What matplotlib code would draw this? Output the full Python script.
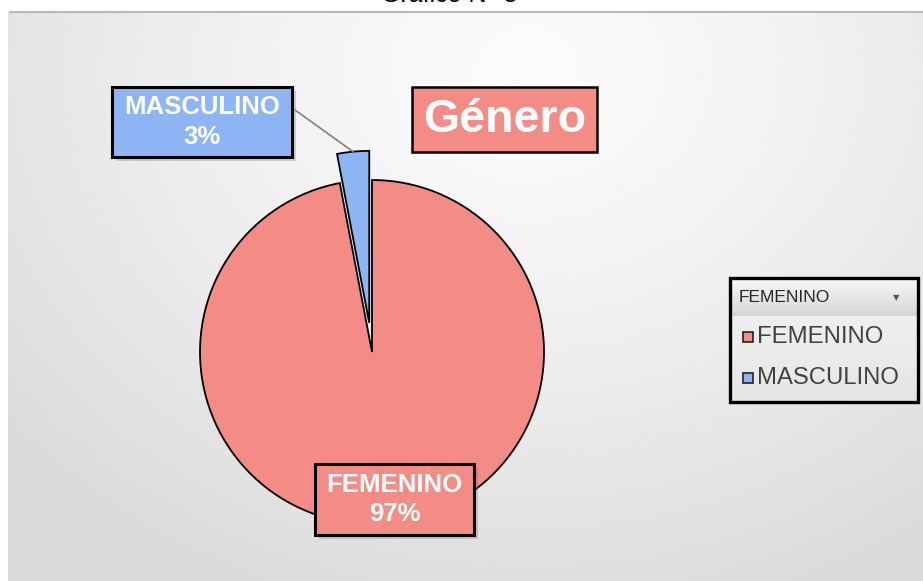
import matplotlib
matplotlib.use("Agg")
import matplotlib.pyplot as plt
from matplotlib.patches import Rectangle, ConnectionPatch
import numpy as np

# data
categories = ["FEMENINO", "MASCULINO"]
values = [97, 3]
slice_colors = ["#F28C84", "#8DB4F3"]
chart_title = "Género"
figure_caption = "Gráfico N° 8"

W, H = 923, 581
FONT = "Liberation Sans"


def fx(x):
    return x / W


def fy(y):
    # pixel y measured from the top
    return 1 - y / H


def label_box(x, y, w, h, face, text, size, lw=2.2, shadow=True):
    if shadow:
        fig.add_artist(Rectangle((fx(x + 4), fy(y + h + 4)), w / W, h / H,
                                 transform=fig.transFigure, facecolor="#7a7a7a",
                                 edgecolor="none", alpha=0.3, zorder=5))
    fig.add_artist(Rectangle((fx(x), fy(y + h)), w / W, h / H,
                             transform=fig.transFigure, facecolor=face,
                             edgecolor="black", linewidth=lw, zorder=6))
    fig.text(fx(x + w / 2), fy(y + h / 2), text, ha="center", va="center",
             color="white", fontweight="bold", fontsize=size, family=FONT,
             linespacing=1.3, zorder=7)


fig = plt.figure(figsize=(W / 100, H / 100), dpi=100)
fig.patch.set_facecolor("white")

# chart area background (soft grey gradient)
bg = fig.add_axes([fx(8), 0, 1 - fx(8), (H - 12) / H])
gy, gx = np.mgrid[0:200, 0:300]
d = np.hypot((gx - 170) / 300.0, (gy - 20) / 200.0 * 0.75)
shade = 0.985 - 0.13 * np.clip(d / 0.75, 0, 1) ** 1.3
bg.imshow(shade, cmap="gray", vmin=0, vmax=1, aspect="auto",
          extent=[0, 1, 0, 1], origin="upper")
bg.set_xlim(0, 1)
bg.set_ylim(0, 1)
bg.axis("off")
fig.add_artist(plt.Line2D([fx(10), 1], [fy(12), fy(12)], transform=fig.transFigure,
                          color="#b8b8b8", linewidth=1.5))

# pie
cx, cy, R = 372, 352, 172
lim = 1.3
ax = fig.add_axes([fx(cx - R * lim), fy(cy + R * lim), 2 * R * lim / W, 2 * R * lim / H])
explode = [0, 0.17]
wedges, _ = ax.pie(values, colors=slice_colors, startangle=90, counterclock=False,
                   explode=explode,
                   wedgeprops=dict(edgecolor="black", linewidth=1.3))
ax.set_xlim(-lim, lim)
ax.set_ylim(-lim, lim)
ax.set_aspect("equal")
ax.axis("off")

total = sum(values)
labels = [f"{c}\n{round(100 * v / total)}%" for c, v in zip(categories, values)]

# leader line to the small slice
w = wedges[1]
mid = np.deg2rad((w.theta1 + w.theta2) / 2)
rr = 1 + explode[1]
con = ConnectionPatch(xyA=(fx(295), fy(110)), coordsA=fig.transFigure,
                      xyB=(rr * np.cos(mid), rr * np.sin(mid)), coordsB=ax.transData,
                      color="#808080", linewidth=1.2, zorder=4)
fig.add_artist(con)

# data labels and title box
label_box(112, 87, 180, 70, slice_colors[1], labels[1], 18.5)
label_box(315, 464, 159, 71, slice_colors[0], labels[0], 18.5)
label_box(412, 87, 185, 65, slice_colors[0], chart_title, 33.5, lw=1.8, shadow=False)

# caption cut by the top edge
fig.text(fx(449), fy(2), figure_caption, ha="center", va="baseline",
         fontsize=18, family=FONT, color="black")

# legend (filter style)
lx, ly, lw_, lh = 730, 278, 188, 124
leg_bg = fig.add_axes([fx(lx), fy(ly + lh), lw_ / W, lh / H])
leg_bg.imshow(np.linspace(0.95, 0.9, 50)[:, None], cmap="gray", vmin=0, vmax=1,
              aspect="auto", extent=[0, 1, 0, 1])
head = fig.add_axes([fx(lx), fy(ly + 38), lw_ / W, 38 / H])
head.imshow(np.linspace(0.97, 0.84, 50)[:, None], cmap="gray", vmin=0, vmax=1,
            aspect="auto", extent=[0, 1, 0, 1])
for a in (leg_bg, head):
    a.set_xlim(0, 1)
    a.set_ylim(0, 1)
    a.axis("off")
fig.add_artist(Rectangle((fx(lx), fy(ly + lh)), lw_ / W, lh / H,
                         transform=fig.transFigure, facecolor="none",
                         edgecolor="black", linewidth=2.4, zorder=6))
fig.text(fx(739), fy(298), categories[0], ha="left", va="center", fontsize=12.5,
         family=FONT, color="#262626", zorder=7)
fig.text(fx(896), fy(298), "\u25BC", ha="center", va="center", fontsize=6,
         family="DejaVu Sans", color="#555555", zorder=7)
for i, (cat, col) in enumerate(zip(categories, slice_colors)):
    yy = 337 + i * 41
    fig.add_artist(Rectangle((fx(743), fy(yy + 5)), 10 / W, 10 / H,
                             transform=fig.transFigure, facecolor=col,
                             edgecolor="#222222", linewidth=1.2, zorder=7))
    fig.text(fx(757), fy(yy), cat, ha="left", va="center", fontsize=17.2,
             family=FONT, color="#404040", zorder=7)

fig.savefig("out.png", dpi=100)
